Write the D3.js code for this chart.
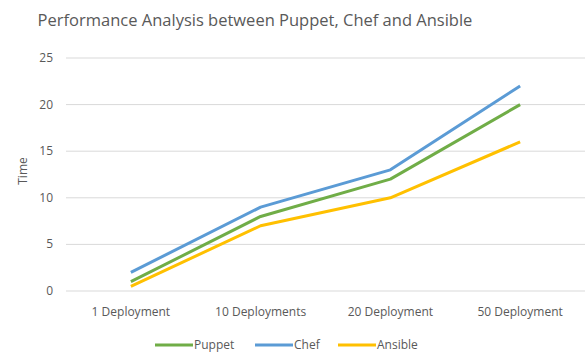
<!DOCTYPE html>
<html>
<head>
<meta charset="utf-8">
<script src="https://cdn.jsdelivr.net/npm/d3@7"></script>
<style>
body { margin: 0; background: #fff; }
text { font-family: "Open Sans", sans-serif; fill: #595959; }
</style>
</head>
<body>
<script>
var categories = ["1 Deployment", "10 Deployments", "20 Deployment", "50 Deployment"];
var puppet = [1, 8, 12, 20];
var chef = [2, 9, 13, 22];
var ansible = [0.5, 7, 10, 16];
var yTicks = [0, 5, 10, 15, 20, 25];

var series = [
  { name: "Puppet", values: puppet, color: "#70ad47" },
  { name: "Chef", values: chef, color: "#5b9bd5" },
  { name: "Ansible", values: ansible, color: "#ffc000" }
];

var w = 587, h = 354;
var plotLeft = 66, plotRight = 585, plotTop = 58, plotBottom = 291;

var svg = d3.select("body").append("svg")
  .attr("width", w)
  .attr("height", h);

var x = d3.scaleBand().domain(categories).range([plotLeft, plotRight]);
var y = d3.scaleLinear().domain([0, 25]).range([plotBottom, plotTop]);

// gridlines
svg.selectAll("line.grid")
  .data(yTicks)
  .enter()
  .append("line")
  .attr("class", "grid")
  .attr("x1", plotLeft)
  .attr("x2", plotRight)
  .attr("y1", function(d) { return y(d); })
  .attr("y2", function(d) { return y(d); })
  .attr("stroke", "#d9d9d9")
  .attr("stroke-width", 1);

// y tick labels
svg.selectAll("text.ytick")
  .data(yTicks)
  .enter()
  .append("text")
  .attr("class", "ytick")
  .attr("x", 53)
  .attr("y", function(d) { return y(d) + 4; })
  .attr("text-anchor", "end")
  .style("font-size", "12px")
  .text(function(d) { return d; });

// x labels
svg.selectAll("text.xtick")
  .data(categories)
  .enter()
  .append("text")
  .attr("class", "xtick")
  .attr("x", function(d) { return x(d) + x.bandwidth() / 2; })
  .attr("y", 316)
  .attr("text-anchor", "middle")
  .style("font-size", "12px")
  .text(function(d) { return d; });

// lines
var line = d3.line()
  .x(function(d, i) { return x(categories[i]) + x.bandwidth() / 2; })
  .y(function(d) { return y(d); });

svg.selectAll("path.series")
  .data(series)
  .enter()
  .append("path")
  .attr("class", "series")
  .attr("fill", "none")
  .attr("stroke", function(d) { return d.color; })
  .attr("stroke-width", 3)
  .attr("stroke-linejoin", "round")
  .attr("d", function(d) { return line(d.values); });

// title
svg.append("text")
  .attr("x", 255)
  .attr("y", 26)
  .attr("text-anchor", "middle")
  .style("font-size", "16.5px")
  .text("Performance Analysis between Puppet, Chef and Ansible");

// y axis label
svg.append("text")
  .attr("transform", "translate(27,171) rotate(-90)")
  .attr("text-anchor", "middle")
  .style("font-size", "12px")
  .text("Time");

// legend
var legX = [155, 255, 338];
var leg = svg.selectAll("g.legend")
  .data(series)
  .enter()
  .append("g")
  .attr("class", "legend")
  .attr("transform", function(d, i) { return "translate(" + legX[i] + ",345)"; });

leg.append("line")
  .attr("x1", 0).attr("x2", 38)
  .attr("y1", 0).attr("y2", 0)
  .attr("stroke", function(d) { return d.color; })
  .attr("stroke-width", 3);

leg.append("text")
  .attr("x", 39)
  .attr("y", 4)
  .style("font-size", "12px")
  .text(function(d) { return d.name; });
</script>
</body>
</html>
